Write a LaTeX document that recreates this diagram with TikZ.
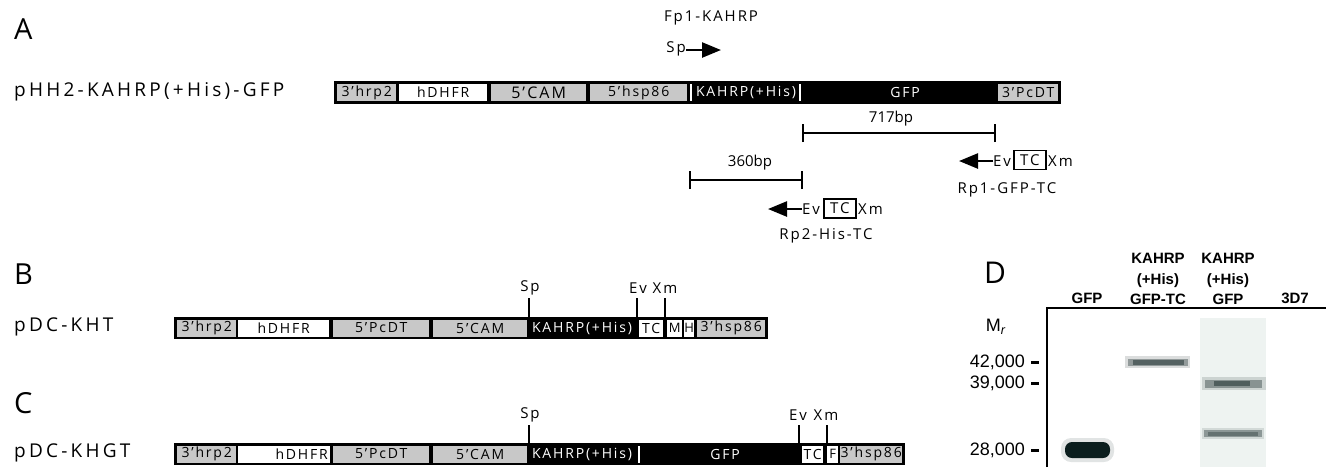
\documentclass[tikz,border=0pt]{standalone}
\usepackage{fontspec}
\usetikzlibrary{arrows.meta}
\newfontfamily\labfont[LetterSpace=17]{Open Sans}
\newfontfamily\segfont[LetterSpace=13]{Open Sans}
\newfontfamily\panfont{Open Sans}
\newfontfamily\arialfont{Liberation Sans}
\definecolor{seggray}{HTML}{C8C8C8}
\definecolor{bandcol}{HTML}{0B1E1E}
\definecolor{lanebg}{HTML}{EEF3F1}
\begin{document}
\begin{tikzpicture}[x=1pt,y=-1pt,
  panel/.style={font=\panfont\fontsize{29}{29}\selectfont, anchor=west, inner sep=0},
  cname/.style={font=\labfont\fontsize{19}{19}\selectfont, anchor=west, inner sep=0},
  barbg/.style={fill=black, draw=none, inner sep=0, anchor=west, minimum height=23pt},
  gseg/.style={fill=seggray, draw=none, inner sep=0, anchor=west, minimum height=17pt, font=\segfont\fontsize{14}{14}\selectfont},
  wseg/.style={gseg, fill=white},
  ktext/.style={font=\segfont\fontsize{14}{14}\selectfont, text=white, inner sep=0},
  sitelab/.style={font=\segfont\fontsize{15}{15}\selectfont, inner sep=0},
  tick/.style={line width=2.5pt},
  sep/.style={fill=white, draw=none, inner sep=0, minimum width=2pt, minimum height=17pt},
  scale bar/.style={line width=2pt},
  primer/.style={line width=2.5pt, -{Triangle[length=19pt,width=15pt]}},
  tcbox/.style={draw=black, line width=1.8pt, inner sep=0, minimum width=32pt, minimum height=19pt, font=\segfont\fontsize{15}{15}\selectfont},
  gelhead/.style={font=\arialfont\bfseries\fontsize{15}{20.5}\selectfont, align=center, inner sep=0},
  mw/.style={font=\arialfont\fontsize{18}{18}\selectfont, anchor=east, inner sep=0},
  mwdash/.style={fill=black, draw=none, inner sep=0, minimum width=8pt, minimum height=3pt},
  band/.style={fill=bandcol}
]
\useasboundingbox (0,0) rectangle (1326,467);

% ---------------- Panel A ----------------
\node[panel] (pA) at (14,29) {A};
\node[cname] (nA) at (14,92) {pHH2-KAHRP(+His)-GFP};
\node[barbg, minimum width=727pt] (barA) at (334,92.5) {};
\node[gseg, minimum width=59pt] (a1) at (337,92.5) {3’hrp2};
\node[wseg, minimum width=88pt] (a2) at (399,92.5) {hDHFR};
\node[gseg, minimum width=95pt, font=\segfont\fontsize{16}{16}\selectfont] (a3) at (491,92.5) {5’CAM};
\node[gseg, minimum width=97pt] (a4) at (590,92.5) {5’hsp86};
\node[sep] (as1) at (691,92.5) {};
\node[ktext] (a5) at (746,92.5) {KAHRP(+His)};
\node[sep] (as2) at (800,92.5) {};
\node[ktext] (a6) at (905,92.5) {GFP};
\node[gseg, minimum width=60pt] (a7) at (998,92.5) {3’PcDT};

% forward primer
\node[sitelab] (fp) at (711,18) {Fp1-KAHRP};
\node[sitelab, anchor=east] (fsp) at (686,49) {Sp};
\coordinate (fend) at (721,50);
\draw[primer] (fsp.east |- fend) -- (fend);

% 717bp scale
\coordinate (s1a) at (803,133);
\coordinate (s1b) at (995,133);
\draw[scale bar] (s1a) -- (s1b);
\draw[scale bar] ([yshift=-9pt]s1a) -- ([yshift=9pt]s1a);
\draw[scale bar] ([yshift=-9pt]s1b) -- ([yshift=9pt]s1b);
\node[sitelab, font=\panfont\fontsize{15}{15}\selectfont] (l717) at (891,119) {717bp};

% 360bp scale
\coordinate (s2a) at (690,180);
\coordinate (s2b) at (802,180);
\draw[scale bar] (s2a) -- (s2b);
\draw[scale bar] ([yshift=-9pt]s2a) -- ([yshift=9pt]s2a);
\draw[scale bar] ([yshift=-9pt]s2b) -- ([yshift=9pt]s2b);
\node[sitelab, font=\panfont\fontsize{15}{15}\selectfont] (l360) at (750,163) {360bp};

% reverse primer 1
\node[sitelab, anchor=west] (r1ev) at (993,161) {Ev};
\node[tcbox, anchor=west] (r1tc) at (1013,160) {TC};
\node[sitelab, anchor=west] (r1xm) at (1048,161) {Xm};
\coordinate (r1tip) at (959,161);
\draw[primer] (r1ev.west) -- (r1tip);
\node[sitelab] (r1lab) at (1007,190) {Rp1-GFP-TC};

% reverse primer 2
\node[sitelab, anchor=west] (r2ev) at (802,209) {Ev};
\node[tcbox, anchor=west] (r2tc) at (823,208.5) {TC};
\node[sitelab, anchor=west] (r2xm) at (858,209) {Xm};
\coordinate (r2tip) at (768,209);
\draw[primer] (r2ev.west) -- (r2tip);
\node[sitelab] (r2lab) at (826,236) {Rp2-His-TC};

% ---------------- Panel B ----------------
\node[panel] (pB) at (14,274) {B};
\node[cname] (nB) at (14,327) {pDC-KHT};
\node[barbg, minimum width=594pt, minimum height=22pt] (barB) at (174,328) {};
\node[gseg, minimum width=59pt] (b1) at (177,328) {3’hrp2};
\node[wseg, minimum width=91pt] (b2) at (238,328) {hDHFR};
\node[gseg, minimum width=96pt] (b3) at (333,328) {5’PcDT};
\node[gseg, minimum width=94pt] (b4) at (433,328) {5’CAM};
\node[ktext] (b5) at (582,328) {KAHRP(+His)};
\node[wseg, minimum width=24pt] (b6) at (639,328) {TC};
\node[wseg, minimum width=15pt, font=\segfont\fontsize{13}{13}\selectfont] (b7) at (667,328) {M};
\node[wseg, minimum width=10pt, font=\segfont\fontsize{13}{13}\selectfont] (b8) at (684,328) {H};
\node[gseg, minimum width=68pt] (b9) at (697,328) {3’hsp86};
\node[sitelab] (bsp) at (530,288) {Sp};
\node[sitelab] (bev) at (638,288) {Ev};
\node[sitelab] (bxm) at (665,288) {Xm};
\coordinate (bt1) at (529,298);
\coordinate (bt2) at (637,298);
\coordinate (bt3) at (665,298);
\draw[tick] (bt1) -- (bt1 |- barB.north);
\draw[tick] (bt2) -- (bt2 |- barB.north);
\draw[tick] (bt3) -- (bt3 |- barB.north);

% ---------------- Panel C ----------------
\node[panel] (pC) at (14,403) {C};
\node[cname] (nC) at (14,453) {pDC-KHGT};
\node[barbg, minimum width=731pt, minimum height=22pt] (barC) at (174,454) {};
\node[gseg, minimum width=59pt] (c1) at (177,454) {3’hrp2};
\node[wseg, minimum width=92pt] (c2) at (238,454) {};
\node[font=\segfont\fontsize{14}{14}\selectfont, anchor=east, inner sep=0] (c2t) at (328,454) {hDHFR};
\node[gseg, minimum width=96pt] (c3) at (333,454) {5’PcDT};
\node[gseg, minimum width=94pt] (c4) at (433,454) {5’CAM};
\node[ktext] (c5) at (582,454) {KAHRP(+His)};
\node[sep] (cs1) at (639,454) {};
\node[ktext] (c6) at (725,454) {GFP};
\node[wseg, minimum width=21pt] (c7) at (802,454) {TC};
\node[wseg, minimum width=11pt, font=\segfont\fontsize{13}{13}\selectfont] (c8) at (827,454) {F};
\node[gseg, minimum width=62pt] (c9) at (840,454) {3’hsp86};
\node[sitelab] (csp) at (530,415) {Sp};
\node[sitelab] (cev) at (798,415) {Ev};
\node[sitelab] (cxm) at (826,415) {Xm};
\coordinate (ct1) at (529,425);
\coordinate (ct2) at (799,425);
\coordinate (ct3) at (827,425);
\draw[tick] (ct1) -- (ct1 |- barC.north);
\draw[tick] (ct2) -- (ct2 |- barC.north);
\draw[tick] (ct3) -- (ct3 |- barC.north);

% ---------------- Panel D ----------------
\node[panel, font=\panfont\fontsize{30}{30}\selectfont] (pD) at (984,273) {D};
\node[gelhead] (h1) at (1087,298) {GFP};
\node[gelhead, anchor=south] (h2) at (1158,305) {KAHRP\\(+His)\\GFP-TC};
\node[gelhead, anchor=south] (h3) at (1228,305) {KAHRP\\(+His)\\GFP};
\node[gelhead] (h4) at (1295,298) {3D7};

\fill[lanebg] (1200,318) rectangle (1266,467);
% bands
\fill[band, opacity=.12, rounded corners=10pt] (1061,438) rectangle (1114,462);
\fill[band, rounded corners=7pt] (1065,442) rectangle (1110,458);
\fill[band, opacity=.15] (1125,356) rectangle (1190,368);
\fill[band, opacity=.35] (1128,358.5) rectangle (1188,366);
\fill[band, opacity=.45] (1133,360) rectangle (1184,364.5);
\fill[band, opacity=.15] (1202,377) rectangle (1266,390);
\fill[band, opacity=.35] (1205,379.5) rectangle (1262,387.5);
\fill[band, opacity=.45] (1214,381) rectangle (1250,386);
\fill[band, opacity=.12] (1202,428) rectangle (1264,439);
\fill[band, opacity=.35] (1204,430) rectangle (1262,437);
\fill[band, opacity=.3] (1208,431.5) rectangle (1258,435.5);

\coordinate (g1) at (1047,467);
\coordinate (g2) at (1326,308);
\draw[line width=1.6pt] (g1) |- (g2);

\node[font=\arialfont\fontsize{18}{18}\selectfont, inner sep=0] (mr) at (996,327) {M\textsubscript{\textit{r}}};
\node[mw] (m42) at (1025,362) {42,000};
\node[mw] (m39) at (1025,383) {39,000};
\node[mw] (m28) at (1025,450) {28,000};
\node[mwdash] (d42) at (1035,362) {};
\node[mwdash] (d39) at (1035,383) {};
\node[mwdash] (d28) at (1035,450) {};
\end{tikzpicture}
\end{document}
